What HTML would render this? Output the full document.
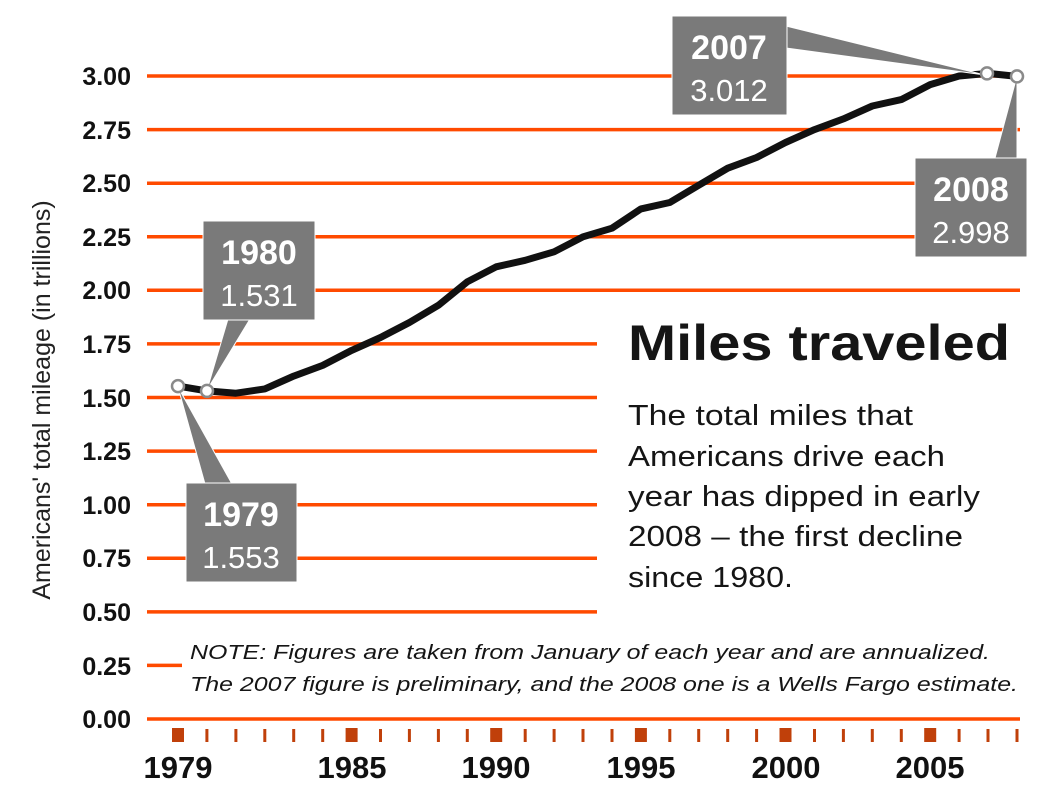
<!DOCTYPE html>
<html><head><meta charset="utf-8"><style>
html,body{margin:0;padding:0;background:#fff;}
svg{display:block;font-family:"Liberation Sans",sans-serif;}
</style></head><body>
<svg width="1055" height="800" viewBox="0 0 1055 800" xmlns="http://www.w3.org/2000/svg">
<g stroke="#ff4a00" stroke-width="3.5">
<line x1="147" x2="1020" y1="76" y2="76"/>
<line x1="147" x2="1020" y1="129.6" y2="129.6"/>
<line x1="147" x2="1020" y1="183.2" y2="183.2"/>
<line x1="147" x2="920" y1="236.8" y2="236.8"/>
<line x1="147" x2="1020" y1="290.3" y2="290.3"/>
<line x1="147" x2="597" y1="343.9" y2="343.9"/>
<line x1="147" x2="597" y1="397.5" y2="397.5"/>
<line x1="147" x2="597" y1="451.1" y2="451.1"/>
<line x1="147" x2="597" y1="504.7" y2="504.7"/>
<line x1="147" x2="597" y1="558.3" y2="558.3"/>
<line x1="147" x2="597" y1="611.9" y2="611.9"/>
<line x1="147" x2="182" y1="665.4" y2="665.4"/>
<line x1="147" x2="1020" y1="719" y2="719"/>
</g>
<g fill="#c0400a">
<rect x="172" y="728" width="12" height="14"/>
<rect x="205.4" y="729" width="3" height="13"/>
<rect x="234.4" y="729" width="3" height="13"/>
<rect x="263.3" y="729" width="3" height="13"/>
<rect x="292.2" y="729" width="3" height="13"/>
<rect x="321.2" y="729" width="3" height="13"/>
<rect x="345.6" y="728" width="12" height="14"/>
<rect x="379" y="729" width="3" height="13"/>
<rect x="407.9" y="729" width="3" height="13"/>
<rect x="436.9" y="729" width="3" height="13"/>
<rect x="465.8" y="729" width="3" height="13"/>
<rect x="490.2" y="728" width="12" height="14"/>
<rect x="523.7" y="729" width="3" height="13"/>
<rect x="552.6" y="729" width="3" height="13"/>
<rect x="581.5" y="729" width="3" height="13"/>
<rect x="610.5" y="729" width="3" height="13"/>
<rect x="634.9" y="728" width="12" height="14"/>
<rect x="668.3" y="729" width="3" height="13"/>
<rect x="697.2" y="729" width="3" height="13"/>
<rect x="726.2" y="729" width="3" height="13"/>
<rect x="755.1" y="729" width="3" height="13"/>
<rect x="779.5" y="728" width="12" height="14"/>
<rect x="813" y="729" width="3" height="13"/>
<rect x="841.9" y="729" width="3" height="13"/>
<rect x="870.8" y="729" width="3" height="13"/>
<rect x="899.8" y="729" width="3" height="13"/>
<rect x="924.2" y="728" width="12" height="14"/>
<rect x="957.6" y="729" width="3" height="13"/>
<rect x="986.5" y="729" width="3" height="13"/>
<rect x="1015.5" y="729" width="3" height="13"/>
</g>
<g font-weight="bold" font-size="25" text-anchor="end" fill="#111">
<text x="131" y="85">3.00</text><text x="131" y="139">2.75</text><text x="131" y="192">2.50</text>
<text x="131" y="246">2.25</text><text x="131" y="299">2.00</text><text x="131" y="353">1.75</text>
<text x="131" y="407">1.50</text><text x="131" y="460">1.25</text><text x="131" y="514">1.00</text>
<text x="131" y="567">0.75</text><text x="131" y="621">0.50</text><text x="131" y="675">0.25</text>
<text x="131" y="728">0.00</text>
</g>
<g font-weight="bold" font-size="31" text-anchor="middle" fill="#111">
<text x="178" y="778">1979</text><text x="352" y="778">1985</text><text x="496" y="778">1990</text>
<text x="641" y="778">1995</text><text x="786" y="778">2000</text><text x="930" y="778">2005</text>
</g>
<text transform="translate(50,400) rotate(-90)" text-anchor="middle" font-size="25" fill="#222">Americans' total mileage (in trillions)</text>
<path fill="none" stroke="#111" stroke-width="7" stroke-linejoin="round" stroke-linecap="round" d="M178,386.1L206.9,390.9L235.9,393.2L264.8,388.9L293.7,376.1L322.7,365.4L351.6,350.4L380.5,337.5L409.4,322.5L438.4,305.3L467.3,281.8L496.2,266.8L525.2,260.3L554.1,251.8L583,236.8L612,228.2L640.9,208.9L669.8,202.5L698.7,185.3L727.7,168.2L756.6,157.5L785.5,142.5L814.5,129.6L843.4,118.9L872.3,106L901.3,99.6L930.2,84.6L959.1,76L988,73.4L1017,76.4"/>
<g fill="#7a7a7a" stroke="#fff" stroke-width="1">
<polygon points="228,319 250,319 207,390"/>
<polygon points="205,484 232,484 178,387"/>
<polygon points="786,26 786,48 985,75"/>
<polygon points="995,158 1017,158 1017,76"/>
<rect x="203" y="221" width="112" height="99"/>
<rect x="186" y="483" width="111" height="99"/>
<rect x="672" y="16" width="115" height="99"/>
<rect x="915" y="158" width="112" height="99"/>
</g>
<g fill="#fff" stroke="#8a8a8a" stroke-width="2.5">
<circle cx="178" cy="386.1" r="6"/><circle cx="207" cy="390.9" r="6"/>
<circle cx="987" cy="73.4" r="6"/><circle cx="1017" cy="76.4" r="6"/>
</g>
<g fill="#fff" text-anchor="middle">
<text x="259" y="264" font-size="34" font-weight="bold">1980</text><text x="259" y="306" font-size="31">1.531</text>
<text x="241" y="526" font-size="34" font-weight="bold">1979</text><text x="241" y="568" font-size="31">1.553</text>
<text x="729" y="59" font-size="34" font-weight="bold">2007</text><text x="729" y="101" font-size="31">3.012</text>
<text x="971" y="201" font-size="34" font-weight="bold">2008</text><text x="971" y="243" font-size="31">2.998</text>
</g>
<text x="628" y="360" font-size="50" font-weight="bold" fill="#151515" textLength="382" lengthAdjust="spacingAndGlyphs">Miles traveled</text>
<g font-size="29" fill="#151515">
<text x="628" y="425" textLength="285" lengthAdjust="spacingAndGlyphs">The total miles that</text>
<text x="628" y="466" textLength="317" lengthAdjust="spacingAndGlyphs">Americans drive each</text>
<text x="628" y="506" textLength="352" lengthAdjust="spacingAndGlyphs">year has dipped in early</text>
<text x="628" y="546" textLength="335" lengthAdjust="spacingAndGlyphs">2008 – the first decline</text>
<text x="628" y="587" textLength="165" lengthAdjust="spacingAndGlyphs">since 1980.</text>
</g>
<g font-size="20" font-style="italic" fill="#151515">
<text x="190" y="659" textLength="800" lengthAdjust="spacingAndGlyphs">NOTE: Figures are taken from January of each year and are annualized.</text>
<text x="190" y="691" textLength="828" lengthAdjust="spacingAndGlyphs">The 2007 figure is preliminary, and the 2008 one is a Wells Fargo estimate.</text>
</g>
</svg>
</body></html>
